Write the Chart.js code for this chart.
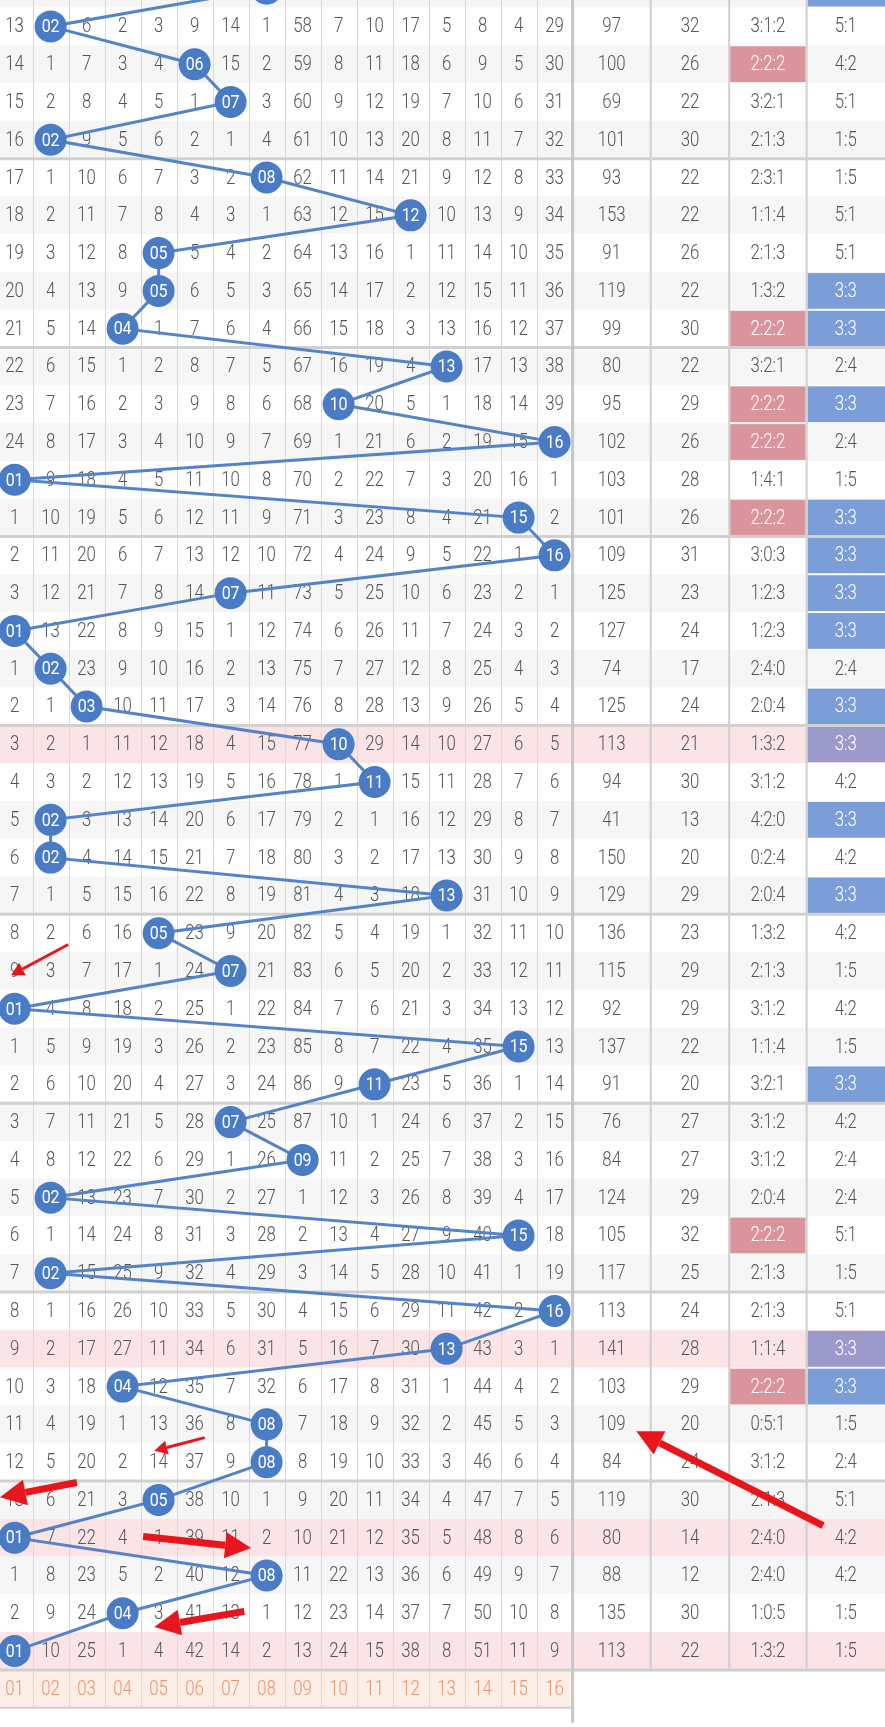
<!DOCTYPE html>
<html>
<head>
<meta charset="utf-8">
<script src="https://cdn.jsdelivr.net/npm/chart.js@4.4.1/dist/chart.umd.min.js"></script>
<style>
  html, body { margin: 0; padding: 0; background: #fff; }
  canvas { display: block; }
</style>
</head>
<body>
<canvas id="trendChart" width="885" height="1727"></canvas>
<script>
// blue-ball omission table, one array per number column (0 = drawn that period)
// row 0 is the period cut off at the top of the screenshot
const n01 = [12,13,14,15,16,17,18,19,20,21,22,23,24,0,1,2,3,0,1,2,3,4,5,6,7,8,9,0,1,2,3,4,5,6,7,8,9,10,11,12,13,0,1,2,0];
const n02 = [3,0,1,2,0,1,2,3,4,5,6,7,8,9,10,11,12,13,0,1,2,3,0,0,1,2,3,4,5,6,7,8,0,1,0,1,2,3,4,5,6,7,8,9,10];
const n03 = [5,6,7,8,9,10,11,12,13,14,15,16,17,18,19,20,21,22,23,0,1,2,3,4,5,6,7,8,9,10,11,12,13,14,15,16,17,18,19,20,21,22,23,24,25];
const n04 = [1,2,3,4,5,6,7,8,9,0,1,2,3,4,5,6,7,8,9,10,11,12,13,14,15,16,17,18,19,20,21,22,23,24,25,26,27,0,1,2,3,4,5,0,1];
const n05 = [2,3,4,5,6,7,8,0,0,1,2,3,4,5,6,7,8,9,10,11,12,13,14,15,16,0,1,2,3,4,5,6,7,8,9,10,11,12,13,14,0,1,2,3,4];
const n06 = [8,9,0,1,2,3,4,5,6,7,8,9,10,11,12,13,14,15,16,17,18,19,20,21,22,23,24,25,26,27,28,29,30,31,32,33,34,35,36,37,38,39,40,41,42];
const n07 = [13,14,15,0,1,2,3,4,5,6,7,8,9,10,11,12,0,1,2,3,4,5,6,7,8,9,0,1,2,3,0,1,2,3,4,5,6,7,8,9,10,11,12,13,14];
const n08 = [0,1,2,3,4,0,1,2,3,4,5,6,7,8,9,10,11,12,13,14,15,16,17,18,19,20,21,22,23,24,25,26,27,28,29,30,31,32,0,0,1,2,0,1,2];
const n09 = [57,58,59,60,61,62,63,64,65,66,67,68,69,70,71,72,73,74,75,76,77,78,79,80,81,82,83,84,85,86,87,0,1,2,3,4,5,6,7,8,9,10,11,12,13];
const n10 = [6,7,8,9,10,11,12,13,14,15,16,0,1,2,3,4,5,6,7,8,0,1,2,3,4,5,6,7,8,9,10,11,12,13,14,15,16,17,18,19,20,21,22,23,24];
const n11 = [9,10,11,12,13,14,15,16,17,18,19,20,21,22,23,24,25,26,27,28,29,0,1,2,3,4,5,6,7,0,1,2,3,4,5,6,7,8,9,10,11,12,13,14,15];
const n12 = [16,17,18,19,20,21,0,1,2,3,4,5,6,7,8,9,10,11,12,13,14,15,16,17,18,19,20,21,22,23,24,25,26,27,28,29,30,31,32,33,34,35,36,37,38];
const n13 = [4,5,6,7,8,9,10,11,12,13,0,1,2,3,4,5,6,7,8,9,10,11,12,13,0,1,2,3,4,5,6,7,8,9,10,11,0,1,2,3,4,5,6,7,8];
const n14 = [7,8,9,10,11,12,13,14,15,16,17,18,19,20,21,22,23,24,25,26,27,28,29,30,31,32,33,34,35,36,37,38,39,40,41,42,43,44,45,46,47,48,49,50,51];
const n15 = [3,4,5,6,7,8,9,10,11,12,13,14,15,16,0,1,2,3,4,5,6,7,8,9,10,11,12,13,0,1,2,3,4,0,1,2,3,4,5,6,7,8,9,10,11];
const n16 = [28,29,30,31,32,33,34,35,36,37,38,39,0,1,2,0,1,2,3,4,5,6,7,8,9,10,11,12,13,14,15,16,17,18,19,0,1,2,3,4,5,6,7,8,9];

// stats columns
const sumVals = [90,97,100,69,101,93,153,91,119,99,80,95,102,103,101,109,125,127,74,125,113,94,41,150,129,136,115,92,137,91,76,84,124,105,117,113,141,103,109,84,119,80,88,135,113];
const spanVals = [26,32,26,22,30,22,22,26,22,30,22,29,26,28,26,31,23,24,17,24,21,30,13,20,29,23,29,29,22,20,27,27,29,32,25,24,28,29,20,24,30,14,12,30,22];
const zoneRatio = ['2:1:3','3:1:2','2:2:2','3:2:1','2:1:3','2:3:1','1:1:4','2:1:3','1:3:2','2:2:2','3:2:1','2:2:2','2:2:2','1:4:1','2:2:2','3:0:3','1:2:3','1:2:3','2:4:0','2:0:4','1:3:2','3:1:2','4:2:0','0:2:4','2:0:4','1:3:2','2:1:3','3:1:2','1:1:4','3:2:1','3:1:2','3:1:2','2:0:4','2:2:2','2:1:3','2:1:3','1:1:4','2:2:2','0:5:1','3:1:2','2:1:3','2:4:0','2:4:0','1:0:5','1:3:2'];
const oddEven = ['3:3','5:1','4:2','5:1','1:5','1:5','5:1','5:1','3:3','3:3','2:4','3:3','2:4','1:5','3:3','3:3','3:3','3:3','2:4','3:3','3:3','4:2','3:3','4:2','3:3','4:2','1:5','4:2','1:5','3:3','4:2','2:4','2:4','5:1','1:5','5:1','3:3','3:3','1:5','2:4','5:1','4:2','4:2','1:5','1:5'];
const pinkRows = [20, 36, 41, 44];
const footLabels = ['01','02','03','04','05','06','07','08','09','10','11','12','13','14','15','16'];

const numCols = [n01,n02,n03,n04,n05,n06,n07,n08,n09,n10,n11,n12,n13,n14,n15,n16];
const rowCount = n01.length;
// the drawn number of each period = the column holding 0
const drawn = [];
for (let r = 0; r < rowCount; r++) {
    drawn.push({ x: numCols.findIndex(c => c[r] === 0) + 1, y: r });
}

// hand-drawn red arrows on the screenshot, in [col, row] units: from, to, thick?
const arrows = [
    [2.49, 25.30, 0.90, 26.11, false],
    [6.28, 38.35, 4.88, 38.70, false],
    [2.73, 39.54, 0.59, 39.93, true],
    [4.57, 40.97, 7.57, 41.27, true],
    [7.38, 42.95, 4.88, 43.36, true],
    [23.46, 40.68, 18.27, 38.18, true]
];

const FONT = "Roboto, 'Liberation Sans', sans-serif";
const BALL = '#4a7cc6';
const statEdges = [16.5, 18.67, 20.85, 23.0, 25.18];

// thin, narrow text like the phone font in the screenshot
function narrowText(ctx, txt, x, y) {
    ctx.save();
    ctx.translate(x, y);
    ctx.scale(0.84, 1);
    ctx.fillText(txt, 0, 0);
    ctx.restore();
}

const tablePlugin = {
    id: 'tableGrid',
    beforeDatasetsDraw(chart) {
        const ctx = chart.ctx;
        const xs = chart.scales.x, ys = chart.scales.y;
        const X = v => xs.getPixelForValue(v);
        const Y = v => ys.getPixelForValue(v);
        const W = chart.width;
        ctx.save();

        // row backgrounds
        for (let r = 0; r < rowCount; r++) {
            const top = Y(r - 0.5), bot = Y(r + 0.5);
            if (pinkRows.includes(r)) ctx.fillStyle = '#fbe4e6';
            else ctx.fillStyle = r % 2 === 0 ? '#f6f6f6' : '#ffffff';
            ctx.fillRect(0, top, W, bot - top);
        }
        // footer row
        ctx.fillStyle = '#fdefe8';
        ctx.fillRect(0, Y(rowCount - 0.5), X(16.5), Y(rowCount + 0.5) - Y(rowCount - 0.5));

        // highlighted stat cells
        for (let r = 0; r < rowCount; r++) {
            const top = Y(r - 0.5) + 1, bot = Y(r + 0.5) - 1;
            if (zoneRatio[r] === '2:2:2') {
                ctx.fillStyle = '#d9949c';
                ctx.fillRect(X(statEdges[2]) + 1, top, X(statEdges[3]) - X(statEdges[2]) - 2, bot - top);
            }
            if (oddEven[r] === '3:3') {
                ctx.fillStyle = pinkRows.includes(r) ? '#9b9acb' : '#7b9dd8';
                ctx.fillRect(X(statEdges[3]) + 1, top, X(statEdges[4]) - X(statEdges[3]) - 1, bot - top);
            }
        }

        // vertical grid lines of number columns
        ctx.strokeStyle = '#d9d9d9';
        ctx.lineWidth = 1;
        for (let c = 0; c < 16; c++) {
            ctx.beginPath();
            ctx.moveTo(Math.round(X(c + 0.5)) + 0.5, 0);
            ctx.lineTo(Math.round(X(c + 0.5)) + 0.5, Y(rowCount + 0.5));
            ctx.stroke();
        }
        // stat column dividers
        ctx.strokeStyle = '#cfcfcf';
        ctx.lineWidth = 2;
        for (let i = 1; i < 4; i++) {
            ctx.beginPath();
            ctx.moveTo(X(statEdges[i]), 0);
            ctx.lineTo(X(statEdges[i]), Y(rowCount - 0.5));
            ctx.stroke();
        }
        // group separators every 5 periods
        ctx.strokeStyle = '#d0d0d0';
        ctx.lineWidth = 3;
        for (let r = 4; r < rowCount; r += 5) {
            ctx.beginPath();
            ctx.moveTo(0, Y(r + 0.5));
            ctx.lineTo(W, Y(r + 0.5));
            ctx.stroke();
        }
        ctx.lineWidth = 2;
        ctx.beginPath();
        ctx.moveTo(0, Y(rowCount + 0.5));
        ctx.lineTo(X(16.5), Y(rowCount + 0.5));
        ctx.stroke();
        // main divider between numbers and stats
        ctx.strokeStyle = '#c6c6c6';
        ctx.lineWidth = 3;
        ctx.beginPath();
        ctx.moveTo(X(16.5), 0);
        ctx.lineTo(X(16.5), Y(rowCount + 0.5) + 15);
        ctx.stroke();

        // cell text
        ctx.textAlign = 'center';
        ctx.textBaseline = 'middle';
        ctx.font = '300 20px ' + FONT;
        for (let r = 0; r < rowCount; r++) {
            const y = Y(r) + 1;
            ctx.fillStyle = '#555';
            numCols.forEach((col, i) => {
                if (col[r] !== 0) narrowText(ctx, String(col[r]), X(i + 1), y);
            });
            narrowText(ctx, String(sumVals[r]), X((statEdges[0] + statEdges[1]) / 2), y);
            narrowText(ctx, String(spanVals[r]), X((statEdges[1] + statEdges[2]) / 2), y);
            ctx.fillStyle = zoneRatio[r] === '2:2:2' ? '#fff' : '#555';
            narrowText(ctx, zoneRatio[r], X((statEdges[2] + statEdges[3]) / 2), y);
            ctx.fillStyle = oddEven[r] === '3:3' ? '#fff' : '#555';
            narrowText(ctx, oddEven[r], X((statEdges[3] + statEdges[4]) / 2), y);
        }
        ctx.fillStyle = '#e8956c';
        footLabels.forEach((t, i) => narrowText(ctx, t, X(i + 1), Y(rowCount) + 1));
        ctx.restore();
    },
    afterDatasetsDraw(chart) {
        const ctx = chart.ctx;
        const xs = chart.scales.x, ys = chart.scales.y;
        const X = v => xs.getPixelForValue(v);
        const Y = v => ys.getPixelForValue(v);
        ctx.save();
        // numbers inside the balls
        ctx.textAlign = 'center';
        ctx.textBaseline = 'middle';
        ctx.font = '400 19px ' + FONT;
        ctx.fillStyle = '#fff';
        chart.getDatasetMeta(0).data.forEach((pt, i) => {
            narrowText(ctx, String(drawn[i].x).padStart(2, '0'), pt.x, pt.y + 1);
        });
        // red arrows
        ctx.fillStyle = '#e8161c';
        ctx.strokeStyle = '#e8161c';
        arrows.forEach(([x1, y1, x2, y2, thick]) => {
            const ax = X(x1), ay = Y(y1), bx = X(x2), by = Y(y2);
            const ang = Math.atan2(by - ay, bx - ax);
            const hl = thick ? 26 : 13, hw = thick ? 13 : 7;
            const sx = bx - hl * Math.cos(ang), sy = by - hl * Math.sin(ang);
            ctx.lineWidth = thick ? 7 : 3;
            ctx.beginPath();
            ctx.moveTo(ax, ay);
            ctx.lineTo(sx, sy);
            ctx.stroke();
            ctx.beginPath();
            ctx.moveTo(bx, by);
            ctx.lineTo(sx + hw * Math.sin(ang), sy - hw * Math.cos(ang));
            ctx.lineTo(sx - hw * Math.sin(ang), sy + hw * Math.cos(ang));
            ctx.closePath();
            ctx.fill();
        });
        ctx.restore();
    }
};

const chart = new Chart(document.getElementById('trendChart'), {
    type: 'line',
    data: {
        datasets: [{
            label: 'blue ball',
            data: drawn,
            borderColor: '#5683c6',
            borderWidth: 3,
            backgroundColor: BALL,
            pointBackgroundColor: BALL,
            pointBorderWidth: 0,
            pointRadius: 16,
            pointHoverRadius: 16,
            tension: 0,
            clip: false
        }]
    },
    options: {
        responsive: false,
        animation: false,
        devicePixelRatio: 1,
        layout: { padding: 0, autoPadding: false },
        scales: {
            x: { type: 'linear', min: 0.594, max: 25.178, display: false },
            y: { type: 'linear', min: 0.301, max: 46.01, reverse: true, display: false }
        },
        plugins: {
            legend: { display: false },
            tooltip: { enabled: false }
        }
    },
    plugins: [tablePlugin]
});
</script>
</body>
</html>
